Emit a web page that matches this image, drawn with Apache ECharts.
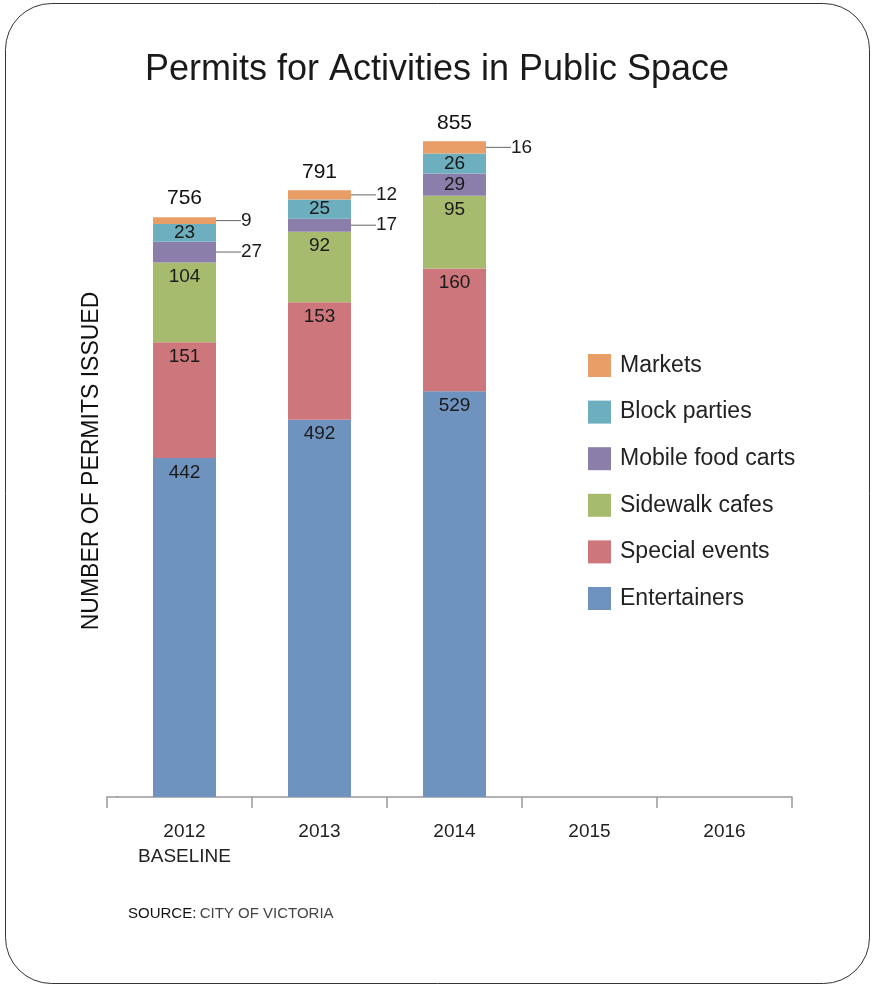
<!DOCTYPE html>
<html>
<head>
<meta charset="utf-8">
<script src="https://cdn.jsdelivr.net/npm/echarts@6/dist/echarts.min.js"></script>
<style>
html,body{margin:0;padding:0;background:#fff;}
#c{width:874px;height:986px;}
</style>
</head>
<body>
<div id="c"></div>
<script>
var categories = ['2012\nBASELINE', '2013', '2014', '2015', '2016'];
var entertainers = [442, 492, 529, null, null];
var specialEvents = [151, 153, 160, null, null];
var sidewalkCafes = [104, 92, 95, null, null];
var mobileFoodCarts = [27, 17, 29, null, null];
var blockParties = [23, 25, 26, null, null];
var markets = [9, 12, 16, null, null];
var totals = [756, 791, 855, null, null];
var marketsOutside = [0, 1, 2];
var mobileOutside = [0, 1];

var FONT = "'Liberation Sans', 'Helvetica Neue', Helvetica, Arial, sans-serif";

function buildData(values, outside) {
  return values.map(function (v, i) {
    if (v == null) return null;
    if (outside && outside.indexOf(i) >= 0) {
      return { value: v, label: { position: 'right', distance: 0 } };
    }
    if (v < 40) {
      return { value: v, label: { position: 'inside' } };
    }
    return { value: v };
  });
}

function seg(name, values, color, outside) {
  var s = {
    name: name,
    type: 'bar',
    stack: 'a',
    barWidth: 63,
    data: buildData(values, outside),
    itemStyle: { color: color },
    label: {
      show: true,
      position: 'insideTop',
      distance: 5,
      color: '#1a1a1a',
      fontFamily: FONT,
      fontSize: 19
    },
    emphasis: { disabled: true }
  };
  if (outside) {
    s.labelLayout = function (p) {
      if (outside.indexOf(p.dataIndex) >= 0) return { dx: 25 };
      return {};
    };
    s.labelLine = { show: true, lineStyle: { color: '#666', width: 1 } };
  }
  return s;
}

var chart = echarts.init(document.getElementById('c'), null, { renderer: 'canvas' });
chart.setOption({
  backgroundColor: '#fff',
  animation: false,
  title: {
    text: 'Permits for Activities in Public Space',
    left: 'center',
    top: 47,
    textStyle: { fontFamily: FONT, fontSize: 36, fontWeight: 'normal', color: '#1a1a1a' }
  },
  legend: {
    orient: 'vertical',
    left: 583,
    top: 349,
    itemWidth: 23,
    itemHeight: 23,
    itemGap: 23.6,
    icon: 'rect',
    selectedMode: false,
    textStyle: { fontFamily: FONT, fontSize: 23, color: '#222', padding: [0, 0, 0, 4] },
    data: ['Markets', 'Block parties', 'Mobile food carts', 'Sidewalk cafes', 'Special events', 'Entertainers']
  },
  grid: { left: 117, right: 82, top: 30, bottom: 189 },
  xAxis: {
    type: 'category',
    data: categories,
    axisLine: { show: true, lineStyle: { color: '#999', width: 1.5 } },
    axisTick: {
      show: true,
      length: 11,
      interval: function (index) { return index !== 0; },
      lineStyle: { color: '#999', width: 1.5 }
    },
    axisLabel: {
      margin: 22,
      interval: 0,
      fontFamily: FONT,
      fontSize: 19,
      lineHeight: 25,
      color: '#222'
    }
  },
  yAxis: {
    type: 'value',
    min: 0,
    max: 1000,
    show: false
  },
  series: [
    seg('Entertainers', entertainers, '#6f93bf'),
    seg('Special events', specialEvents, '#cd767c'),
    seg('Sidewalk cafes', sidewalkCafes, '#a7bb6e'),
    seg('Mobile food carts', mobileFoodCarts, '#8b7eaa', mobileOutside),
    seg('Block parties', blockParties, '#6eafbf'),
    seg('Markets', markets, '#e89e66', marketsOutside),
    {
      name: 'Total',
      type: 'bar',
      stack: 'a',
      barWidth: 63,
      data: totals.map(function (t) { return t == null ? null : 0; }),
      itemStyle: { color: 'transparent' },
      label: {
        show: true,
        position: 'top',
        distance: 8,
        fontFamily: FONT,
        fontSize: 21,
        color: '#111',
        formatter: function (p) { return totals[p.dataIndex]; }
      },
      emphasis: { disabled: true }
    }
  ],
  graphic: [
    {
      type: 'rect',
      shape: { x: 5.5, y: 3.5, width: 864, height: 980, r: 46 },
      style: { fill: 'none', stroke: '#333', lineWidth: 1 },
      silent: true
    },
    {
      type: 'polyline',
      shape: { points: [[107, 808], [107, 797], [118, 797]] },
      style: { fill: 'none', stroke: '#999', lineWidth: 1.5 },
      silent: true
    },
    {
      type: 'text',
      x: 92,
      y: 461,
      rotation: Math.PI / 2,
      style: {
        text: 'NUMBER OF PERMITS ISSUED',
        fontFamily: FONT,
        fontSize: 23,
        fill: '#111',
        align: 'center',
        verticalAlign: 'middle'
      }
    },
    {
      type: 'text',
      x: 128,
      y: 914,
      style: {
        text: '{b|SOURCE:} {n|CITY OF VICTORIA}',
        verticalAlign: 'middle',
        rich: {
          b: { fontFamily: FONT, fontSize: 15, fill: '#111' },
          n: { fontFamily: FONT, fontSize: 15, fill: '#444' }
        }
      }
    }
  ]
});
</script>
</body>
</html>
